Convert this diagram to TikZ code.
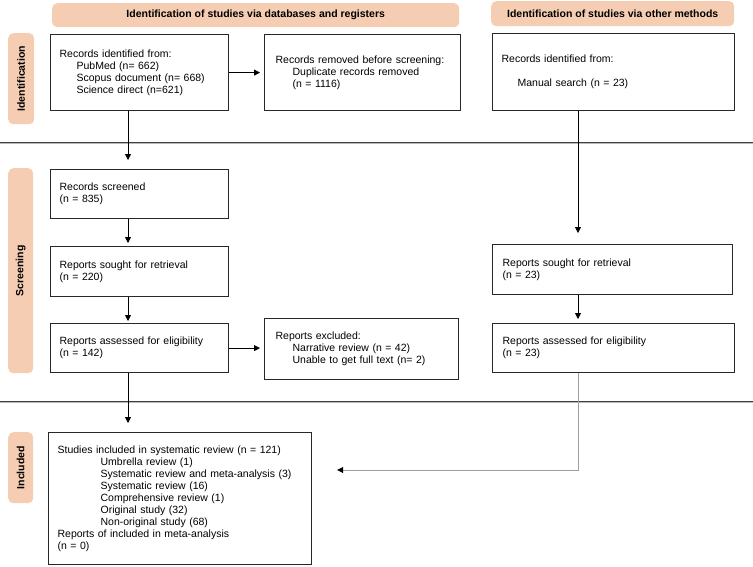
\documentclass[tikz,border=0pt]{standalone}
\usepackage{fontspec}
\setmainfont{Liberation Sans}
\usetikzlibrary{arrows.meta}
\definecolor{peach}{RGB}{244,205,178}
\definecolor{boxline}{RGB}{40,40,40}
\begin{document}
\begin{tikzpicture}[x=1pt,y=-1pt,
  font=\fontsize{10.5}{12}\selectfont,
  box/.style={draw=boxline, line width=1.2pt, anchor=north west, align=left, inner xsep=9pt, inner ysep=0pt},
  hdr/.style={fill=peach, rounded corners=5pt, anchor=north west, font=\fontsize{10.5}{12}\selectfont\bfseries, inner sep=0pt},
  side/.style={fill=peach, rounded corners=5pt, anchor=north west, inner sep=0pt},
  sidetext/.style={rotate=90, font=\fontsize{10.5}{12}\selectfont\bfseries, inner sep=0pt},
  arr/.style={draw=black, line width=0.8pt, -{Triangle[length=6pt,width=6pt]}},
  sepline/.style={draw=gray!50!black, double=gray!55, line width=0.9pt, double distance=1pt}]
\useasboundingbox (0,0) rectangle (753,566);

% headers
\node[hdr, minimum width=407pt, minimum height=24pt] (h1) at (52,3) {Identification of studies via databases and registers};
\node[hdr, minimum width=243pt, minimum height=25pt] (h2) at (491,1) {Identification of studies via other methods};

% side labels
\node[side, minimum width=26pt, minimum height=91pt] (s1) at (8,33) {};
\node[sidetext] (s1t) at (s1.center) {Identification};
\node[side, minimum width=25pt, minimum height=205pt] (s2) at (8,168) {};
\node[sidetext] (s2t) at (s2.center) {Screening};
\node[side, minimum width=25pt, minimum height=71pt] (s3) at (8,432) {};
\node[sidetext] (s3t) at (s3.center) {Included};

% separators
\draw[sepline] (0,143) -- (753,143);
\draw[sepline] (0,402) -- (753,402);

% identification boxes
\node[box, text width=160pt, minimum height=76pt] (a) at (50,34) {Records identified from:\\
\hspace*{17pt}PubMed (n= 662)\\
\hspace*{17pt}Scopus document (n= 668)\\
\hspace*{17pt}Science direct (n=621)};
\node[box, text width=174pt, inner xsep=11pt, minimum height=76pt] (rem) at (264,34) {Records removed before screening:\\
\hspace*{17pt}Duplicate records removed\\
\hspace*{17pt}(n = 1116)};
\node[box, text width=224pt, minimum height=77pt] (ro) at (492,33) {Records identified from:\\[12pt]
\hspace*{16pt}Manual search (n = 23)};

% screening boxes
\node[box, text width=160pt, minimum height=49pt] (scr) at (50,169) {Records screened\\(n = 835)};
\node[box, text width=160pt, minimum height=50pt] (so) at (50,246) {Reports sought for retrieval\\(n = 220)};
\node[box, text width=160pt, minimum height=49pt] (as) at (50,323) {Reports assessed for eligibility\\(n = 142)};
\node[box, text width=172pt, inner xsep=11pt, minimum height=61pt] (ex) at (264,318) {Reports excluded:\\
\hspace*{17pt}Narrative review (n = 42)\\
\hspace*{17pt}Unable to get full text (n= 2)};
\node[box, text width=220pt, inner xsep=10pt, minimum height=50pt] (rs) at (492,244) {Reports sought for retrieval\\(n = 23)};
\node[box, text width=222pt, inner xsep=10pt, minimum height=49pt] (ra) at (492,323) {Reports assessed for eligibility\\(n = 23)};

% included
\node[box, text width=245pt, minimum height=132pt] (inc) at (48,432) {Studies included in systematic review (n = 121)\\
\hspace*{43pt}Umbrella review (1)\\
\hspace*{43pt}Systematic review and meta-analysis (3)\\
\hspace*{43pt}Systematic review (16)\\
\hspace*{43pt}Comprehensive review (1)\\
\hspace*{43pt}Original study (32)\\
\hspace*{43pt}Non-original study (68)\\
Reports of included in meta-analysis\\
(n = 0)};

% connectors
\coordinate (lx) at (128,0);
\coordinate (rx) at (578,0);
\coordinate (y470) at (0,470);
\draw[arr, shorten >=4pt] (a.east) -- (rem.west |- a.east);
\draw[arr, shorten >=9pt] (a.south -| lx) -- (scr.north -| lx);
\draw[arr, shorten >=3pt] (scr.south -| lx) -- (so.north -| lx);
\draw[arr, shorten >=2pt] (so.south -| lx) -- (as.north -| lx);
\draw[arr, shorten >=4pt] (as.east) -- (ex.west |- as.east);
\draw[arr, shorten >=9pt] (as.south -| lx) -- (inc.north -| lx);
\draw[arr, shorten >=11pt] (ro.south -| rx) -- (rs.north -| rx);
\draw[arr, shorten >=4pt] (rs.south -| rx) -- (ra.north -| rx);
\draw[arr, draw=gray!75, -{Triangle[length=6pt,width=6pt,color=black]}, shorten >=25pt] (ra.south -| rx) |- (inc.east |- y470);
\end{tikzpicture}
\end{document}
